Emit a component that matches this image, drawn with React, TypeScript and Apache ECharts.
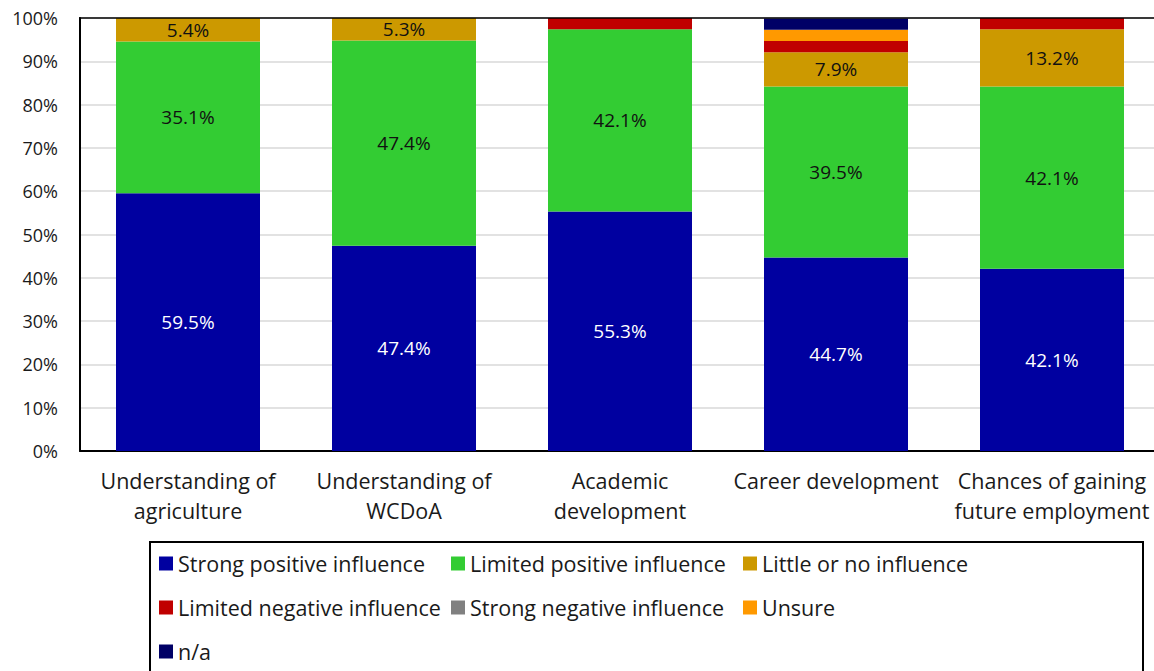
import React, { useEffect, useRef } from "react";
import * as echarts from "echarts";

const categories = [
  "Understanding of\nagriculture",
  "Understanding of\nWCDoA",
  "Academic\ndevelopment",
  "Career development",
  "Chances of gaining\nfuture employment",
];

const seriesNames = [
  "Strong positive influence",
  "Limited positive influence",
  "Little or no influence",
  "Limited negative influence",
  "Strong negative influence",
  "Unsure",
  "n/a",
];

const strongPositive = [59.5, 47.4, 55.3, 44.7, 42.1];
const limitedPositive = [35.1, 47.4, 42.1, 39.5, 42.1];
const littleOrNo = [5.4, 5.3, 0, 7.9, 13.2];
const limitedNegative = [0, 0, 2.6, 2.6, 2.6];
const strongNegative = [0, 0, 0, 0, 0];
const unsure = [0, 0, 0, 2.6, 0];
const notApplicable = [0, 0, 0, 2.6, 0];

const seriesValues = [
  strongPositive,
  limitedPositive,
  littleOrNo,
  limitedNegative,
  strongNegative,
  unsure,
  notApplicable,
];

const colors = ["#0000A0", "#33CC33", "#CC9900", "#C00000", "#808080", "#FF9900", "#000066"];
const labelColors = ["#FFFFFF", "#111111", "#111111", "#111111", "#111111", "#111111", "#FFFFFF"];

const yTicks = { min: 0, max: 100, interval: 10 };

const FONT = "'Open Sans', sans-serif";

export default function App() {
  const ref = useRef<HTMLDivElement>(null);
  useEffect(() => {
    if (!ref.current) return;
    const chart = echarts.init(ref.current, undefined, { renderer: "svg" });
    chart.setOption({
      animation: false,
      textStyle: { fontFamily: FONT },
      grid: {
        left: 80,
        top: 18,
        width: 1080,
        height: 433,
        show: false,
        containLabel: false,
      },
      xAxis: {
        type: "category",
        data: categories,
        axisLine: { lineStyle: { color: "#000", width: 2 } },
        axisTick: { show: false },
        axisLabel: {
          fontFamily: FONT,
          fontSize: 21.5,
          color: "#1a1a1a",
          lineHeight: 30,
          margin: 14,
          interval: 0,
        },
      },
      yAxis: {
        type: "value",
        min: yTicks.min,
        max: yTicks.max,
        interval: yTicks.interval,
        axisLine: { show: true, lineStyle: { color: "#000", width: 2 } },
        axisTick: { show: false },
        splitLine: { lineStyle: { color: "#d9d9d9", width: 1.5 } },
        axisLabel: {
          formatter: "{value}%",
          fontFamily: FONT,
          fontSize: 18,
          color: "#1a1a1a",
          margin: 22,
        },
      },
      legend: {
        left: 159,
        top: 545,
        width: 900,
        padding: 0,
        itemWidth: 14,
        itemHeight: 14,
        itemGap: 7,
        icon: "rect",
        data: seriesNames,
        textStyle: {
          fontFamily: FONT,
          fontSize: 21.5,
          color: "#1a1a1a",
          width: 266,
          height: 37,
          lineHeight: 37,
          overflow: "truncate",
          padding: [0, 0, 0, 0],
        },
      },
      graphic: [
        {
          type: "line",
          shape: { x1: 79, y1: 18, x2: 1170, y2: 18 },
          style: { stroke: "#000", lineWidth: 1.5 },
          silent: true,
          z: 10,
        },
        {
          type: "rect",
          shape: { x: 150, y: 542, width: 993, height: 140 },
          style: { fill: "none", stroke: "#000", lineWidth: 2 },
          silent: true,
        },
      ],
      series: seriesNames.map((name, i) => ({
        name,
        type: "bar",
        stack: "total",
        barWidth: 144,
        data: seriesValues[i],
        itemStyle: { color: colors[i] },
        label: {
          show: true,
          position: "inside",
          fontFamily: FONT,
          fontSize: 19,
          color: labelColors[i],
          formatter: (p: any) => (p.value >= 5 ? p.value.toFixed(1) + "%" : ""),
        },
      })),
    });
    return () => chart.dispose();
  }, []);
  return (
    <div
      style={{
        position: "fixed",
        left: 0,
        top: 0,
        width: 1154,
        height: 671,
        overflow: "hidden",
        background: "#fff",
      }}
    >
      <div ref={ref} style={{ width: 1170, height: 671 }} />
    </div>
  );
}
